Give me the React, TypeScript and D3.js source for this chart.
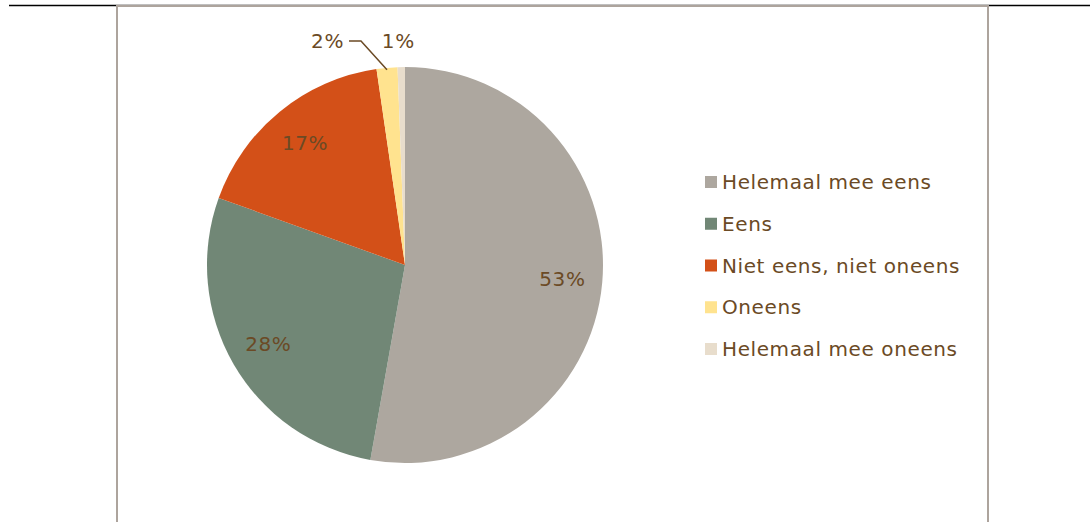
import React, { useEffect, useRef } from "react";
import * as d3 from "d3";

const categories = ["Helemaal mee eens", "Eens", "Niet eens, niet oneens", "Oneens", "Helemaal mee oneens"];
const values = [52.8, 27.7, 17.2, 1.7, 0.6];
const colors = ["#ADA79F", "#718776", "#D35018", "#FFE38F", "#E8DDCC"];

const W = 1091;
const H = 522;
const textColor = "#6B4A25";
const font = "'DejaVu Sans', Verdana, sans-serif";

export default function App() {
  const ref = useRef<SVGSVGElement>(null);

  useEffect(() => {
    const svg = d3.select(ref.current);
    svg.selectAll("*").remove();

    // top rule and chart frame
    svg.append("line").attr("x1", 9).attr("x2", 1090).attr("y1", 5.5).attr("y2", 5.5)
      .attr("stroke", "#000").attr("stroke-width", 1.5);
    svg.append("path")
      .attr("d", "M117,522 V6 H988 V522")
      .attr("fill", "#fff").attr("stroke", "#ADA49D").attr("stroke-width", 2);

    const cx = 405, cy = 265, R = 198;
    const data = categories.map((c, i) => ({ name: c, value: values[i], color: colors[i] }));
    const pie = d3.pie<any>().value(d => d.value).sort(null);
    const arcs = pie(data);
    const arc = d3.arc<any>().innerRadius(0).outerRadius(R);
    const labelArc = d3.arc<any>().innerRadius(158).outerRadius(158);

    const g = svg.append("g").attr("transform", `translate(${cx},${cy})`);
    g.selectAll("path.slice").data(arcs).join("path")
      .attr("class", "slice")
      .attr("d", arc as any)
      .attr("fill", d => d.data.color);

    const total = d3.sum(values);
    const pct = (v: number) => Math.round((v / total) * 100) + "%";

    arcs.forEach((a, i) => {
      const mid = (a.startAngle + a.endAngle) / 2;
      if (a.data.value > 5) {
        const [x, y] = labelArc.centroid(a);
        g.append("text").attr("x", x).attr("y", y).attr("dy", "0.35em")
          .attr("text-anchor", "middle").attr("fill", textColor)
          .style("font-family", font).style("font-size", "20px").style("letter-spacing", "0.6px")
          .text(pct(a.data.value));
      } else {
        const ex = Math.sin(mid) * R, ey = -Math.cos(mid) * R;
        const ly = -R - 26;
        if (i === 3) {
          const elbowX = ex - 26;
          g.append("path")
            .attr("d", `M${ex},${ey + 2} L${elbowX},${ly} H${elbowX - 12}`)
            .attr("fill", "none").attr("stroke", textColor).attr("stroke-width", 1.5);
          g.append("text").attr("x", elbowX - 17).attr("y", ly).attr("dy", "0.35em")
            .attr("text-anchor", "end").attr("fill", textColor)
            .style("font-family", font).style("font-size", "20px").style("letter-spacing", "0.6px")
            .text(pct(a.data.value));
        } else {
          g.append("text").attr("x", ex - 3).attr("y", ly).attr("dy", "0.35em")
            .attr("text-anchor", "middle").attr("fill", textColor)
            .style("font-family", font).style("font-size", "20px").style("letter-spacing", "0.6px")
            .text(pct(a.data.value));
        }
      }
    });

    // legend
    const ly = d3.scalePoint<string>().domain(categories).range([182, 349]);
    const legend = svg.append("g");
    data.forEach(d => {
      const y = ly(d.name)!;
      legend.append("rect").attr("x", 705).attr("y", y - 6).attr("width", 12).attr("height", 12).attr("fill", d.color);
      legend.append("text").attr("x", 722).attr("y", y).attr("dy", "0.36em").attr("fill", textColor)
        .style("font-family", font).style("font-size", "20px").style("letter-spacing", "0.6px")
        .text(d.name);
    });
  }, []);

  return (
    <svg ref={ref} width={W} height={H} style={{ position: "absolute", left: 0, top: 0, background: "#fff" }} />
  );
}
